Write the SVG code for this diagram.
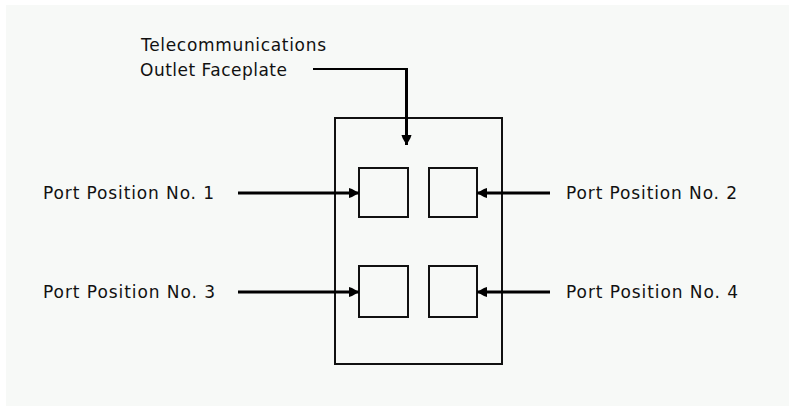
<svg xmlns="http://www.w3.org/2000/svg" width="789" height="406" viewBox="0 0 789 406">
  <style>
    .lbl { font-family: "DejaVu Sans", "Liberation Sans", sans-serif; font-size: 17px; fill: #111; }
    .box { fill: none; stroke: #111; stroke-width: 2; }
    .arr { stroke: #000; stroke-width: 3; fill: none; }
    .lead { stroke: #000; stroke-width: 2; fill: none; }
  </style>
  <defs>
    <marker id="ah" markerUnits="userSpaceOnUse" markerWidth="12" markerHeight="12" viewBox="0 0 12 12" refX="11" refY="6" orient="auto">
      <path d="M1,1 L4,2 L11,6 L4,10 L1,11 Z" fill="#000"/>
    </marker>
  </defs>
  <rect x="0" y="0" width="789" height="406" fill="#ffffff"/>
  <rect x="6" y="5" width="783" height="401" fill="#f7f9f7"/>

  <g id="faceplate">
    <rect class="box" x="335" y="118" width="167" height="246"/>
  </g>
  <g id="port1"><rect class="box" x="359" y="168" width="49" height="49"/></g>
  <g id="port2"><rect class="box" x="429" y="168" width="48" height="49"/></g>
  <g id="port3"><rect class="box" x="359" y="266" width="49" height="51"/></g>
  <g id="port4"><rect class="box" x="429" y="266" width="48" height="51"/></g>

  <g id="label-faceplate">
    <text class="lbl" x="141" y="51" textLength="185" lengthAdjust="spacing">Telecommunications</text>
    <text class="lbl" x="140" y="76" textLength="147" lengthAdjust="spacing">Outlet Faceplate</text>
  </g>
  <g id="label-port1"><text class="lbl" x="43" y="199" textLength="171" lengthAdjust="spacing">Port Position No. 1</text></g>
  <g id="label-port2"><text class="lbl" x="566" y="199" textLength="171" lengthAdjust="spacing">Port Position No. 2</text></g>
  <g id="label-port3"><text class="lbl" x="43" y="298" textLength="172" lengthAdjust="spacing">Port Position No. 3</text></g>
  <g id="label-port4"><text class="lbl" x="566" y="298" textLength="172" lengthAdjust="spacing">Port Position No. 4</text></g>

  <g id="connectors">
    <polyline class="lead" points="313,69 407,69"/>
    <line class="arr" x1="406.5" y1="68" x2="406.5" y2="145" marker-end="url(#ah)"/>
    <line class="arr" x1="238" y1="193" x2="359" y2="193" marker-end="url(#ah)"/>
    <line class="arr" x1="550" y1="193" x2="477" y2="193" marker-end="url(#ah)"/>
    <line class="arr" x1="238" y1="292" x2="359" y2="292" marker-end="url(#ah)"/>
    <line class="arr" x1="550" y1="292" x2="477" y2="292" marker-end="url(#ah)"/>
  </g>
</svg>
